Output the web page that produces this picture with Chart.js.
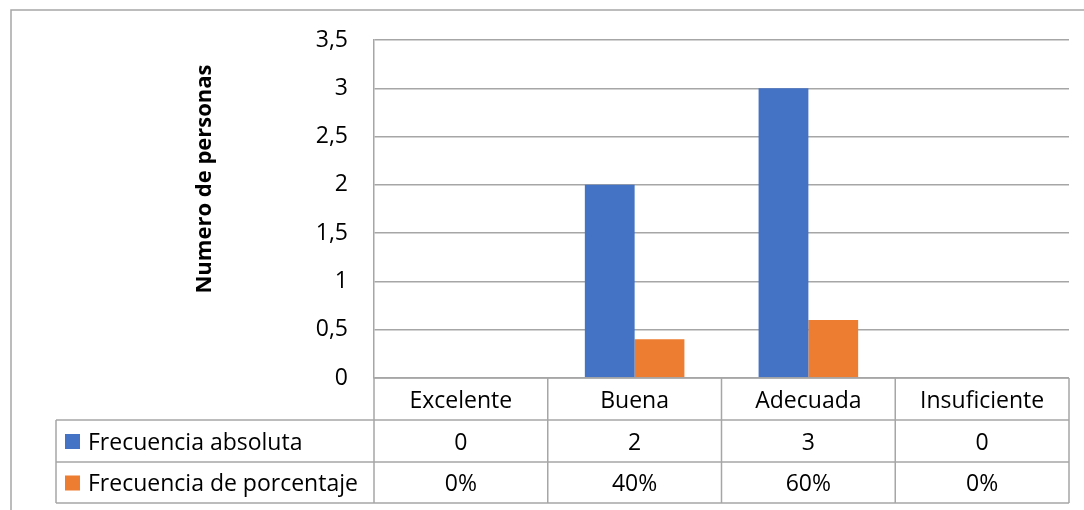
<!DOCTYPE html>
<html>
<head>
<meta charset="utf-8">
<script src="https://cdn.jsdelivr.net/npm/chart.js@4"></script>
<style>
  html, body { margin: 0; padding: 0; background: #fff; }
  #wrap { width: 1084px; height: 510px; }
</style>
</head>
<body>
<div id="wrap"><canvas id="canvas" width="1084" height="510"></canvas></div>
<script>
// datos de la grafica
const categorias = ["Excelente", "Buena", "Adecuada", "Insuficiente"];
const frecAbsoluta = [0, 2, 3, 0];
const frecPorcentaje = [0, 0.4, 0.6, 0];
const nombresSeries = ["Frecuencia absoluta", "Frecuencia de porcentaje"];
const colores = ["#4472C4", "#ED7D31"];
const tituloY = "Numero de personas";

const FUENTE = "'Open Sans', sans-serif";
const GRIS = "#a6a6a6";

// numeros con coma decimal
const conComa = v => String(v).replace(".", ",");

// tabla de datos debajo del grafico + marco + titulo del eje
const tablaDatos = {
    id: "tablaDatos",
    afterDraw(chart) {
        const ctx = chart.ctx;
        const area = chart.chartArea;
        const xs = chart.scales.x;
        const ancho = (area.right - area.left) / categorias.length;
        const filas = [area.bottom, area.bottom + 42, area.bottom + 84, area.bottom + 125];
        const izqTabla = 56;

        ctx.save();
        // marco exterior
        ctx.strokeStyle = GRIS;
        ctx.lineWidth = 1.5;
        ctx.strokeRect(11, 10, 1200, 700);

        // lineas de la tabla
        ctx.beginPath();
        for (let i = 0; i <= categorias.length; i++) {
            const x = area.left + i * ancho;
            ctx.moveTo(x, filas[0]);
            ctx.lineTo(x, filas[3]);
        }
        ctx.moveTo(area.left, filas[0]);
        ctx.lineTo(area.right, filas[0]);
        for (let f = 1; f < filas.length; f++) {
            ctx.moveTo(izqTabla, filas[f]);
            ctx.lineTo(area.right, filas[f]);
        }
        ctx.moveTo(izqTabla, filas[1]);
        ctx.lineTo(izqTabla, filas[3]);
        ctx.stroke();

        // textos de la tabla (un poco bajo el centro de cada fila)
        ctx.fillStyle = "#000";
        ctx.font = "23px " + FUENTE;
        ctx.textAlign = "center";
        ctx.textBaseline = "middle";
        const valores = [
            frecAbsoluta.map(v => String(v)),
            frecPorcentaje.map(v => Math.round(v * 100) + "%")
        ];
        categorias.forEach((cat, i) => {
            const xc = xs.getPixelForValue(i);
            ctx.fillText(cat, xc, (filas[0] + filas[1]) / 2 + 2);
            ctx.fillText(valores[0][i], xc, (filas[1] + filas[2]) / 2 + 2);
            ctx.fillText(valores[1][i], xc, (filas[2] + filas[3]) / 2 + 2);
        });

        // nombres de las series con su color
        ctx.textAlign = "left";
        nombresSeries.forEach((nom, s) => {
            const yc = (filas[s + 1] + filas[s + 2]) / 2;
            ctx.fillStyle = colores[s];
            ctx.fillRect(65, yc - 7, 15, 15);
            ctx.fillStyle = "#000";
            ctx.fillText(nom, 88, yc + 2);
        });

        // titulo del eje y
        ctx.translate(205, 179);
        ctx.rotate(-Math.PI / 2);
        ctx.textAlign = "center";
        ctx.font = "bold 22px " + FUENTE;
        ctx.fillText(tituloY, 0, 0);
        ctx.restore();
    }
};

const grafico = new Chart(document.getElementById("canvas").getContext("2d"), {
    type: "bar",
    data: {
        labels: categorias,
        datasets: [
            { label: nombresSeries[0], data: frecAbsoluta, backgroundColor: colores[0] },
            { label: nombresSeries[1], data: frecPorcentaje, backgroundColor: colores[1] }
        ]
    },
    options: {
        responsive: false,
        animation: false,
        devicePixelRatio: 1,
        layout: { padding: { top: 40, right: 15, bottom: 132, left: 0 } },
        datasets: { bar: { categoryPercentage: 0.573, barPercentage: 1 } },
        plugins: {
            legend: { display: false },
            tooltip: { enabled: false }
        },
        scales: {
            x: { display: false },
            y: {
                min: 0,
                max: 3.5,
                afterFit: scale => { scale.width = 374; },
                ticks: {
                    stepSize: 0.5,
                    padding: 26,
                    color: "#000",
                    font: { family: FUENTE, size: 23 },
                    callback: v => conComa(v)
                },
                grid: { color: GRIS, lineWidth: 1.5, drawTicks: false },
                border: { color: GRIS, width: 1.5 }
            }
        }
    },
    plugins: [tablaDatos]
});
</script>
</body>
</html>
